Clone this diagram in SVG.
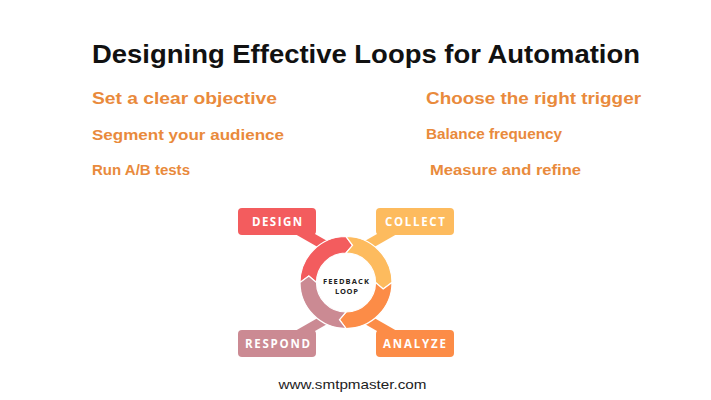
<svg xmlns="http://www.w3.org/2000/svg" width="711" height="400" viewBox="0 0 711 400">
<style>
.title{font-family:"Liberation Sans",Arial,sans-serif;font-weight:bold;fill:#111;}
.tip{font-family:"Liberation Sans",Arial,sans-serif;font-weight:bold;fill:#E98A3C;}
.lbl{font-family:"Open Sans","Liberation Sans",sans-serif;font-weight:bold;fill:#fff;font-size:11.5px;text-anchor:middle;}
.ctr{font-family:"Open Sans","Liberation Sans",sans-serif;font-weight:bold;fill:#222;font-size:7.5px;text-anchor:middle;}
.seg{stroke:#fff;stroke-width:1.2;stroke-linejoin:miter;}
.url{font-family:"Liberation Sans",Arial,sans-serif;fill:#222;font-size:13px;}
</style>
<rect width="711" height="400" fill="#fff"/>
<text class="title" x="92" y="63" font-size="26" textLength="548" lengthAdjust="spacingAndGlyphs">Designing Effective Loops for Automation</text>
<g id="tips">
<text class="tip" x="92" y="104" font-size="16" textLength="185" lengthAdjust="spacingAndGlyphs">Set a clear objective</text>
<text class="tip" x="92" y="140" font-size="15" textLength="192" lengthAdjust="spacingAndGlyphs">Segment your audience</text>
<text class="tip" x="92" y="175" font-size="14" textLength="98" lengthAdjust="spacingAndGlyphs">Run A/B tests</text>
<text class="tip" x="426" y="104" font-size="17" textLength="215" lengthAdjust="spacingAndGlyphs">Choose the right trigger</text>
<text class="tip" x="426" y="138.5" font-size="14" textLength="136" lengthAdjust="spacingAndGlyphs">Balance frequency</text>
<text class="tip" x="430" y="175" font-size="14" textLength="151" lengthAdjust="spacingAndGlyphs">Measure and refine</text>
</g>
<g id="connectors">
<polygon points="295,234 315,234 336,246 323,250" fill="#F35C5E"/>
<polygon points="397,234 377,234 356,246 369,250" fill="#FDBB5E"/>
<polygon points="295,331 315,331 336,319 323,315" fill="#CB8A93"/>
<polygon points="397,331 377,331 356,319 369,315" fill="#FC8C47"/>
</g>
<g id="design">
<rect x="238" y="208" width="78" height="27" rx="4" fill="#F35C5E"/>
<text class="lbl" x="277" y="226" textLength="50" lengthAdjust="spacing">DESIGN</text>
</g>
<g id="collect">
<rect x="376" y="208" width="78" height="27" rx="4" fill="#FDBB5E"/>
<text class="lbl" x="415" y="226" textLength="60" lengthAdjust="spacing">COLLECT</text>
</g>
<g id="respond">
<rect x="238" y="330" width="78" height="27" rx="4" fill="#CB8A93"/>
<text class="lbl" x="277.5" y="348" textLength="65" lengthAdjust="spacing">RESPOND</text>
</g>
<g id="analyze">
<rect x="376" y="330" width="78" height="27" rx="4" fill="#FC8C47"/>
<text class="lbl" x="414.5" y="348" textLength="63" lengthAdjust="spacing">ANALYZE</text>
</g>
<g id="loop">
<path class="seg" fill="#F35C5E" d="M300,282.5 A46,46 0 0 1 346,236.5 L352.56,245.32 L346,253 A29.5,29.5 0 0 0 316.5,282.5 L308.82,275.95 Z"/>
<path class="seg" fill="#FDBB5E" d="M346,236.5 A46,46 0 0 1 392,282.5 L383.18,289.06 L375.5,282.5 A29.5,29.5 0 0 0 346,253 L352.56,245.32 Z"/>
<path class="seg" fill="#FC8C47" d="M392,282.5 A46,46 0 0 1 346,328.5 L339.45,319.68 L346,312 A29.5,29.5 0 0 0 375.5,282.5 L383.18,289.06 Z"/>
<path class="seg" fill="#CB8A93" d="M346,328.5 A46,46 0 0 1 300,282.5 L308.82,275.95 L316.5,282.5 A29.5,29.5 0 0 0 346,312 L339.45,319.68 Z"/>
<text class="ctr" x="346" y="284.3" textLength="46" lengthAdjust="spacing">FEEDBACK</text>
<text class="ctr" x="346.5" y="294" textLength="23" lengthAdjust="spacing">LOOP</text>
</g>
<text class="url" x="352.5" y="388.5" text-anchor="middle" textLength="148" lengthAdjust="spacingAndGlyphs">www.smtpmaster.com</text>
</svg>
